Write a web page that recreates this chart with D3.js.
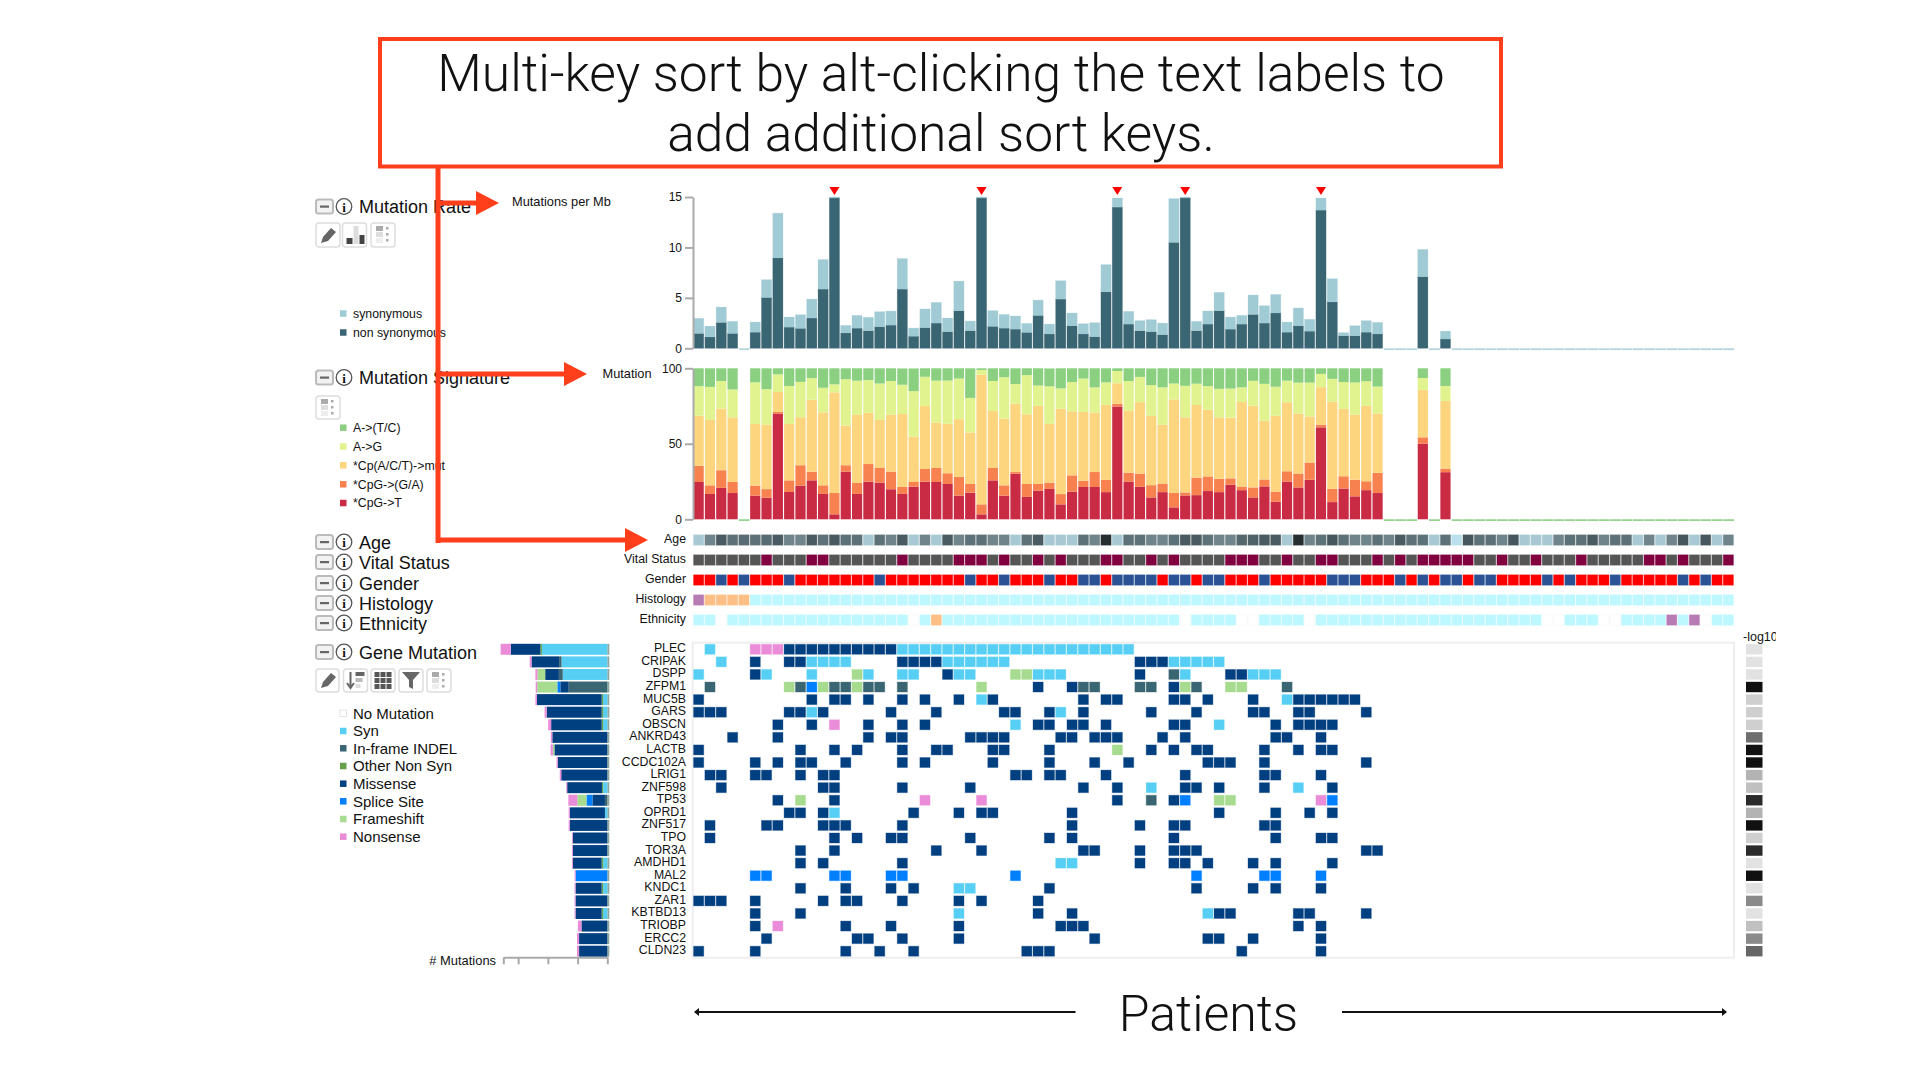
<!DOCTYPE html>
<html><head><meta charset="utf-8">
<script src="https://cdn.jsdelivr.net/npm/d3@7"></script>
<style>
html,body{margin:0;padding:0;background:#fff;overflow:hidden}
svg{display:block}
text{font-family:"Liberation Sans",Arial,sans-serif;fill:#111}
</style></head><body><svg id="c" width="1920" height="1080"></svg>
<script>
// ---------- data ----------
const genes=["PLEC","CRIPAK","DSPP","ZFPM1","MUC5B","GARS","OBSCN","ANKRD43","LACTB","CCDC102A","LRIG1","ZNF598","TP53","OPRD1","ZNF517","TPO","TOR3A","AMDHD1","MAL2","KNDC1","ZAR1","KBTBD13","TRIOBP","ERCC2","CLDN23"];
const rateNonSyn=[1.48,1.12,2.57,1.48,0,1.6,5.04,8.97,2.1,1.98,3,5.87,14.9,1.52,2,1.75,2.14,2.3,5.87,1.2,2.05,2.5,1.65,3.73,1.75,14.9,2.18,2,1.9,1.58,3.26,1.42,4.88,2.24,1.42,1.15,5.6,14,2.4,1.75,1.65,1.35,10.5,14.9,1.75,2.4,3.73,1.9,2.4,3.36,2.5,3.5,1.6,2.24,1.7,13.7,4.6,1.25,1.25,1.6,1.42,0,0,0,7.1,0,0.92, 0,0,0,0,0, 0,0,0,0,0, 0,0,0,0,0, 0,0,0,0,0, 0,0,0,0,0];
const rateSyn=[1.49,1.08,1.52,1.19,0,1,1.76,4.43,1,1.35,1.88,2.93,0.1,0.75,1.26,1.32,1.49,1.39,3.03,0.8,1.85,2.05,1.35,2.93,0.95,0.1,1.55,1.36,1.3,0.89,1.52,0.98,1.82,1.26,1.02,1.39,2.7,0.9,1.26,0.99,1.19,1.15,4.34,0.1,0.92,1.3,1.81,1.2,0.86,1.92,1.72,1.84,1,1.76,1.17,1.2,2.3,0.3,0.99,1.14,1.15,0,0,0,2.7,0,0.78, 0,0,0,0,0, 0,0,0,0,0, 0,0,0,0,0, 0,0,0,0,0, 0,0,0,0,0];
const truncatedCols=[12,25,37,43,55];
const sigCpGT=[24.7,16.8,20.8,17.4,0,15.7,14.3,70,18.1,22.3,25.8,16.8,3.3,31.6,16.8,24.9,24.3,19.9,16.8,21.6,24.9,24.7,23.4,15.7,17.7,3.3,25.8,15.7,30.2,14.8,19,20.1,9.9,18.3,21.4,21.4,18,74.7,25,21.5,14.5,18,7.9,15.8,16,18.7,18,22.9,19.3,14.5,21.8,11.6,25,21.1,26.2,60.9,11.4,20.4,15.2,19.3,17.4,0,0,0,50.1,0,31.2, 0,0,0,0,0, 0,0,0,0,0, 0,0,0,0,0, 0,0,0,0,0, 0,0,0,0,0];
const sigCpGGA=[10.8,5.7,11.7,7.3,0,6.6,5.7,1.1,7.7,13.5,5.7,5.7,14.1,4.2,7.3,11.7,9.7,11.7,4.6,3.1,8.4,9.3,7.1,12.4,5.7,6.6,8.2,6.8,1.1,8.6,4.4,4.2,6.8,10.8,4.2,9.9,8.1,1.8,5.9,8.8,8.1,5.7,9.5,2,11.6,9.7,8.8,4.2,2.4,6.6,4.6,6.8,6.8,9.2,11.4,1.8,8.8,8.1,11,5.9,13.4,0,0,0,4.2,0,2.4, 0,0,0,0,0, 0,0,0,0,0, 0,0,0,0,0, 0,0,0,0,0, 0,0,0,0,0];
const sigCpMut=[33.1,43.3,40.8,42.8,0,40.8,42.6,13.2,37.3,31.8,47.7,48.3,66.7,26.3,45,34,31.8,37.7,48.3,30,41.7,30,32.7,38.2,34,85.9,37.7,44.2,45.3,46.1,51.7,38.9,56.5,42.4,45.5,39.3,49.7,13.6,40.9,47.3,45.9,38.9,62,49.7,48.1,44.2,40.7,40.2,56,54.1,38.9,50.1,45.7,39.8,30.5,24.8,57.6,44.6,43.1,49.9,39.3,0,0,0,31.4,0,44.8, 0,0,0,0,0, 0,0,0,0,0, 0,0,0,0,0, 0,0,0,0,0, 0,0,0,0,0];
const sigAG=[19.6,21.9,18.3,18.5,0,27.6,23.6,11.7,25.2,23.4,14.3,16.3,5.3,30.7,22.7,21.6,24.1,22.3,19.4,30.2,19.4,27.8,28.7,26.9,23,3.1,19.9,27.4,13,26,13.5,24.9,13.5,19.4,22.1,16.8,14.9,8.1,19.8,16.7,20.4,24.8,10.5,20.9,14.1,15.6,18.9,19.3,9.7,16.5,24.4,19.3,14.3,20.4,22.4,8.8,15.2,17.8,21.3,16.3,17.8,0,0,0,7.9,0,9.9, 0,0,0,0,0, 0,0,0,0,0, 0,0,0,0,0, 0,0,0,0,0, 0,0,0,0,0];
const sigATC=[11.8,12.3,8.4,14,0,9.3,13.8,4,11.7,9,6.5,12.9,10.6,7.2,8.2,7.8,10.1,8.4,10.8,15,5.6,8.2,8.1,6.8,19.6,1.1,8.4,5.9,10.4,4.5,11.4,11.8,13.3,9.1,6.8,12.6,9.3,1.8,8.4,5.7,11,12.6,10.1,11.6,10.2,11.8,13.6,13.4,12.6,8.3,10.3,12.2,8.2,9.5,9.5,3.7,7,9.1,9.4,8.6,12.1,0,0,0,6.4,0,11.7, 0,0,0,0,0, 0,0,0,0,0, 0,0,0,0,0, 0,0,0,0,0, 0,0,0,0,0];
const ageValues=[35,50,66,58,60,58,60,66,50,50,66,58,66,58,58,35,58,50,66,35,50,35,66,50,58,58,50,50,35,58,66,35,35,35,58,50,85,35,58,58,50,50,58,66,66,58,50,50,62,64,66,66,35,85,50,58,68,58,50,50,58,50,66,58,58,35,58,28,68,58,58,50,68,35,35,35,50,58,58,66,50,58,58,35,50,35,50,68,35,68,35,50];
const deceasedCols=[6,10,11,18,23,24,25,27,30,32,36,37,40,42,47,48,49,52,55,56,60,62,64,65,66,67,68,71,74,78,84,85,87,91];
const maleCols=[2,4,8,16,24,27,31,34,35,37,38,39,40,42,43,45,46,50,56,57,58,62,64,66,67,69,70,75,77,81,87,89];
const histPurpleCols=[0];
const histOrangeCols=[1,2,3,4];
const ethWhiteCols=[2,19,43,48,49,54,75,76,80,81,89];
const ethOrangeCols=[21];
const ethPurpleCols=[86,88];
const missense=[[8,9,10,11,12,13,14,15,16,17],[5,8,9,18,19,20,21,39,40,41],[5,22,39,47,48],[30,33,42],[0,10,12,13,15,18,20,23,26,34,36,37,42,43,45,49,53,54,55,56,57,58],[0,1,2,8,9,11,17,21,27,28,31,34,40,44,49,50,53,54,59],[7,10,15,18,20,30,31,33,34,36,42,43,51,53,54,55,56],[3,7,15,17,18,24,25,26,27,32,33,35,36,37,41,43,51,52,55],[0,9,12,14,18,21,22,26,27,31,40,42,44,45,50,53,55,56],[0,5,7,9,10,13,18,20,26,31,35,38,45,46,47,50,59],[1,2,5,6,9,11,12,28,29,31,32,36,43,50,51,55],[2,11,12,18,24,34,37,43,44,46,50,56],[7,12,37,42],[8,9,11,19,23,25,26,33,46,51,54,56],[1,6,7,11,12,13,18,33,39,42,43,50,51],[1,12,14,17,18,24,31,33,42,51,55,56],[9,12,21,25,34,35,39,42,43,44,59,60],[9,11,18,39,42,43,45,49,51,56],[],[9,13,17,19,31,44,49,51,55],[0,1,2,5,11,13,14,18,23,25,30],[5,9,30,33,46,47,53,54,59],[5,13,17,23,32,33,34,53,55],[6,14,15,18,23,35,45,46,49,55],[0,5,13,16,19,29,30,31,48,55]];
const synCalls=[[1,18,19,20,21,22,23,24,25,26,27,28,29,30,31,32,33,34,35,36,37,38],[2,10,11,12,13,22,23,24,25,26,27,42,43,44,45,46],[0,6,10,15,18,19,23,24,30,31,32,43,49,50,51],[],[25,52],[10,32],[28,46],[],[],[],[],[40,53],[],[12],[],[],[],[32,33],[],[23,24],[],[23,45],[],[],[]];
const inframeCalls=[[],[],[42],[1,9,12,13,15,16,18,34,35,39,40,44,52],[],[],[],[],[],[],[],[],[40],[],[],[],[],[],[],[],[],[],[],[],[]];
const spliceCalls=[[],[],[],[10],[],[],[],[],[],[],[],[],[43,56],[],[],[],[],[],[5,6,12,13,17,18,28,44,50,51,55],[],[],[],[],[],[]];
const frameshiftCalls=[[],[],[14,28,29],[8,11,14,25,43,47,48],[],[],[],[],[37],[],[],[],[9,46,47],[],[],[],[],[],[],[],[],[],[],[],[]];
const nonsenseCalls=[[5,6,7],[],[],[],[],[],[12],[],[],[],[],[],[20,25,55],[],[],[],[],[],[],[],[],[],[7],[],[]];
// gene totals bar (counts by type)
const barSyn=[22,15.4,15,0,1.4,1.4,1.4,0,0,0,0,1.4,0,0.8,0,0,0,1.4,0,1.4,0,1.4,0,0,0];
const barInframe=[0,0.8,1.3,13,0,0,0,0,0,0,0,0,0.8,0,0,0,0,0,0,0,0,0,0,0,0];
const barOther=[0.5,0,0,0,0.5,0.5,0.5,0,0,0,0,0.4,0,0,0,0,0,0.5,0,0.5,0,0.5,0,0,0];
const barMissense=[10,9.3,4.6,2.8,21.8,18.5,17,18.5,17.8,16.7,15.5,11.7,4.2,11.8,12.6,11.6,11.6,9.7,0,8.8,10.7,8.8,8.7,9.5,9.5];
const barSplice=[0,0,0,1,0,0,0,0,0,0,0,0,2,0,0,0,0,0,10.7,0,0,0,0,0,0];
const barFrameshift=[0,0,2.6,6.8,0,0,0,0,0.5,0,0,0,3.1,0,0,0,0,0,0,0,0,0,0,0,0];
const barNonsense=[3.4,0.6,0.7,0.5,0.5,0.7,1,0.5,0.8,0.4,0.5,0.3,3,0.4,0.4,0.3,0.3,0.3,0.3,0.3,0.3,0.3,1.2,0.7,0.7];
const negLog10=[0.44,0.44,0.44,7,1.04,1.04,1.04,4.08,7,7,1.9,1.5,6.2,1.9,7,1.04,6.2,0.44,7,0.44,3.2,0.44,1.5,3.2,4.33];
const rateTicks=[0,5,10,15];
const sigTicks=[0,50,100];
const countTicks=[0,10,20,30,35];
const trackNames=["Age","Vital Status","Gender","Histology","Ethnicity"];
const rateLegend=[["synonymous","#9fcbd5"],["non synonymous","#3a6673"]];
const sigLegend=[["A->(T/C)","#8bd081"],["A->G","#e0f38f"],["*Cp(A/C/T)->mut","#fdd57f"],["*CpG->(G/A)","#f7824f"],["*CpG->T","#c92a44"]];
const geneLegend=[["No Mutation","#ffffff"],["Syn","#57cff5"],["In-frame INDEL","#3a6673"],["Other Non Syn","#66a04d"],["Missense","#003f80"],["Splice Site","#007fff"],["Frameshift","#a7db8f"],["Nonsense","#eb8cd9"]];

// ---------- layout ----------
const svg=d3.select("#c");
const ORANGE="#ff3f1c";
const nCols=rateNonSyn.length, cols=d3.range(nCols);
const x=d3.scaleBand().domain(cols).range([693,1734]).paddingInner(0.1).paddingOuter(0.05);
const yRate=d3.scaleLinear().domain([0,15]).range([348.3,197]).clamp(true);
const ySig=d3.scaleLinear().domain([0,100]).range([519.3,368.3]);
const yGene=d3.scaleBand().domain(genes).range([643,957.5]);
const xCount=d3.scaleLinear().domain([0,35]).range([607.3,503.3]);

function axis(g,gen){
  g.call(gen);
  g.select(".domain").attr("stroke","#aaa").attr("stroke-width",2);
  g.selectAll(".tick line").attr("stroke","#aaa").attr("stroke-width",2);
  g.selectAll(".tick text").attr("font-size",12).attr("fill","#111").attr("font-family","Liberation Sans");
}

// Rate bars
const gRate=svg.append("g");
const rateStack=d3.stack().keys(["n","s"])(cols.map(i=>({n:rateNonSyn[i],s:rateSyn[i]})));
const rateCols=["#3a6673","#a0cbd5"];
rateStack.forEach((ser,si)=>{
  gRate.selectAll(null).data(ser.map((d,i)=>({d,i})).filter(o=>o.d[1]>o.d[0])).join("rect")
   .attr("x",o=>x(o.i)).attr("width",x.bandwidth())
   .attr("y",o=>yRate(o.d[1])).attr("height",o=>yRate(o.d[0])-yRate(o.d[1]))
   .attr("fill",rateCols[si]).attr("stroke",rateCols[si]).attr("stroke-opacity",.3).attr("stroke-width",.8);
});
gRate.selectAll(null).data(cols.filter(i=>rateNonSyn[i]+rateSyn[i]===0)).join("rect")
  .attr("x",x).attr("width",x.bandwidth()+.6).attr("y",yRate(0)).attr("height",1.8).attr("fill","#b4d6dd");
gRate.selectAll(null).data(truncatedCols).join("path")
  .attr("d",i=>{const c=x(i)+x.bandwidth()/2,t=yRate(15);return `M${c-5},${t-10}L${c+5},${t-10}L${c},${t-2}Z`;})
  .attr("fill","#ff0000");
svg.append("g").attr("transform","translate(693,0)").call(axis,d3.axisLeft(yRate).tickValues(rateTicks).tickSize(8).tickSizeOuter(0).tickPadding(3));

// Signature bars
const gSig=svg.append("g");
const sigStack=d3.stack().keys(["a","b","c","d","e"])(cols.map(i=>({a:sigCpGT[i],b:sigCpGGA[i],c:sigCpMut[i],d:sigAG[i],e:sigATC[i]})));
const sigCols=[sigLegend[4][1],sigLegend[3][1],sigLegend[2][1],sigLegend[1][1],sigLegend[0][1]];
sigStack.forEach((ser,si)=>{
  gSig.selectAll(null).data(ser.map((d,i)=>({d,i})).filter(o=>o.d[1]>o.d[0])).join("rect")
   .attr("x",o=>x(o.i)).attr("width",x.bandwidth())
   .attr("y",o=>ySig(o.d[1])).attr("height",o=>ySig(o.d[0])-ySig(o.d[1]))
   .attr("fill",sigCols[si]);
});
gSig.selectAll(null).data(cols.filter(i=>sigCpGT[i]+sigATC[i]===0)).join("rect")
  .attr("x",x).attr("width",x.bandwidth()+.6).attr("y",ySig(0)).attr("height",1.6).attr("fill","#8bd081");
svg.append("g").attr("transform","translate(693,0)").call(axis,d3.axisLeft(ySig).tickValues(sigTicks).tickSize(8).tickSizeOuter(0).tickPadding(3));

// Clinical tracks
const trackY=d3.scalePoint().domain(trackNames).range([540,620]);
const ageColor=d3.scaleLinear().domain([28,35,50,58,66,85]).range(["#b9e0ec","#a8c9d3","#6f848b","#5d7278","#4a5c62","#272e30"]);
const CY="#bdf7ff",PU="#b87cb5",OR="#fdbf85";
const trackFill={
 "Age":i=>ageColor(ageValues[i]),
 "Vital Status":i=>deceasedCols.includes(i)?"#800040":"#555555",
 "Gender":i=>maleCols.includes(i)?"#2a5295":"#ff0000",
 "Histology":i=>histPurpleCols.includes(i)?PU:histOrangeCols.includes(i)?OR:CY,
 "Ethnicity":i=>ethWhiteCols.includes(i)?"#ffffff":ethOrangeCols.includes(i)?OR:ethPurpleCols.includes(i)?PU:CY
};
trackNames.forEach(t=>{
  svg.append("g").selectAll("rect").data(cols).join("rect")
   .attr("x",x).attr("width",x.bandwidth()).attr("y",trackY(t)-5.2).attr("height",10.4)
   .attr("fill",trackFill[t])
   .attr("stroke",i=>trackFill[t](i)==="#ffffff"?"#eeeeee":trackFill[t](i)).attr("stroke-opacity",.35).attr("stroke-width",1);
  svg.append("text").attr("x",686).attr("y",trackY(t)+3).attr("text-anchor","end").attr("font-size",12.3).text(t);
});

// Heat map
svg.append("rect").attr("x",692.7).attr("y",642.7).attr("width",1041.3).attr("height",315).attr("fill","#fff").attr("stroke","#eeeeee").attr("stroke-width",2);
const callSets=[[synCalls,1],[inframeCalls,2],[missense,4],[spliceCalls,5],[frameshiftCalls,6],[nonsenseCalls,7]];
callSets.forEach(([calls,li])=>{
  const col=geneLegend[li][1];
  genes.forEach((g,gi)=>{
    svg.append("g").selectAll("rect").data(calls[gi]).join("rect")
      .attr("x",x).attr("width",x.bandwidth()).attr("y",yGene(g)+yGene.step()/2-5).attr("height",10)
      .attr("fill",col).attr("stroke",col).attr("stroke-opacity",.3).attr("stroke-width",1);
  });
});
svg.append("g").selectAll("text").data(genes).join("text")
  .attr("x",686).attr("y",g=>yGene(g)+yGene.step()/2+3).attr("text-anchor","end").attr("font-size",12.3).text(g=>g);

// Gene-count bars
const gBar=svg.append("g");
const barSeries=[[barSyn,1],[barInframe,2],[barOther,3],[barMissense,4],[barSplice,5],[barFrameshift,6],[barNonsense,7]];
genes.forEach((g,gi)=>{
  gBar.append("rect").attr("x",xCount(0)).attr("width",2).attr("y",yGene(g)+.8).attr("height",11).attr("fill","#8fa89c");
  let acc=0;
  barSeries.forEach(([arr,li])=>{
    const v=arr[gi]; if(!v) return;
    gBar.append("rect").attr("x",xCount(acc+v)).attr("width",xCount(acc)-xCount(acc+v))
      .attr("y",yGene(g)+.8).attr("height",11).attr("fill",geneLegend[li][1]);
    acc+=v;
  });
});
svg.append("g").attr("transform","translate(0,957.3)").call(axis,d3.axisBottom(xCount).tickValues(countTicks).tickSize(7).tickSizeOuter(0).tickFormat(""));
svg.append("text").attr("x",496).attr("y",965).attr("text-anchor","end").attr("font-size",12.9).text("# Mutations");

// -log10 strip
const grey=d3.scaleLinear().domain([0,7]).range(["#f0f0f0","#111111"]);
svg.append("g").selectAll("rect").data(genes).join("rect")
  .attr("x",1746).attr("width",16.5).attr("y",g=>yGene(g)+yGene.step()/2-5.2).attr("height",10.4)
  .attr("fill",(g,i)=>grey(negLog10[i]));
svg.append("clipPath").attr("id","lg").append("rect").attr("x",1740).attr("y",620).attr("width",36).attr("height",30);
svg.append("text").attr("x",1743).attr("y",641).attr("font-size",12.5).attr("clip-path","url(#lg)").text("-log10");

// Axis captions
svg.append("text").attr("x",512).attr("y",206).attr("font-size",12.8).text("Mutations per Mb");
svg.append("text").attr("x",602.5).attr("y",378).attr("font-size",12.8).text("Mutation");

// Left panel
function minusI(cy){
  svg.append("rect").attr("x",316).attr("y",cy-7).attr("width",17).attr("height",14).attr("rx",2.5).attr("fill","#f2f2f2").attr("stroke","#bbb").attr("stroke-width",2);
  svg.append("rect").attr("x",320).attr("y",cy-1).attr("width",9).attr("height",2.2).attr("fill","#666");
  svg.append("circle").attr("cx",344).attr("cy",cy).attr("r",7.8).attr("fill","#fff").attr("stroke","#555").attr("stroke-width",1.3);
  svg.append("text").attr("x",344).attr("y",cy+5).attr("text-anchor","middle").attr("font-size",13).style("font-family","Liberation Serif").attr("font-weight","bold").attr("fill","#444").text("i");
}
[["Mutation Rate",213],["Mutation Signature",384],["Age",548.5],["Vital Status",568.5],["Gender",589.5],["Histology",609.5],["Ethnicity",629.5],["Gene Mutation",658.5]].forEach(([t,b])=>{
  minusI(b-6.5);
  svg.append("text").attr("x",359).attr("y",b).attr("font-size",18).text(t);
});
function btn(xp,yp,w,h,kind){
  const g=svg.append("g").attr("transform",`translate(${xp},${yp})`);
  g.append("rect").attr("width",w).attr("height",h).attr("rx",3).attr("fill","#fff").attr("stroke","#ddd").attr("stroke-width",1.5);
  const c="#666";
  if(kind==="pen") g.append("path").attr("d",`M5,${h-4}L7,${h-10}L15,${h-19}L20,${h-15}L12,${h-6}Z`).attr("fill",c);
  if(kind==="bars"){ g.append("rect").attr("x",4).attr("y",h-9).attr("width",6).attr("height",6).attr("fill","#444");
    g.append("rect").attr("x",11).attr("y",h-21).attr("width",5).attr("height",18).attr("fill","#ddd");
    g.append("rect").attr("x",17).attr("y",h-12).attr("width",5).attr("height",9).attr("fill","#444");}
  if(kind==="sort"){ g.append("rect").attr("x",5).attr("y",3).attr("width",7).attr("height",5).attr("fill","#aaa");
    g.append("rect").attr("x",5).attr("y",9).attr("width",7).attr("height",5).attr("fill","#ddd");
    g.append("rect").attr("x",5).attr("y",15).attr("width",7).attr("height",5).attr("fill","#eee");
    [4,10,16].forEach(v=>g.append("rect").attr("x",15).attr("y",v).attr("width",2.5).attr("height",2.5).attr("fill","#aaa"));}
  if(kind==="down"){ g.append("path").attr("d",`M7,3V${h-6}M3.5,${h-9}L7,${h-4}L10.5,${h-9}`).attr("stroke",c).attr("stroke-width",2).attr("fill","none");
    g.append("rect").attr("x",12).attr("y",3).attr("width",9).attr("height",4).attr("fill",c);
    g.append("rect").attr("x",12).attr("y",9).attr("width",7).attr("height",4).attr("fill","#bbb");
    g.append("rect").attr("x",12).attr("y",15).attr("width",5).attr("height",4).attr("fill","#ddd");}
  if(kind==="grid"){ d3.range(3).forEach(a=>d3.range(3).forEach(b=>g.append("rect").attr("x",3.5+a*6).attr("y",3+b*6).attr("width",5).attr("height",5).attr("fill","#555")));}
  if(kind==="funnel") g.append("path").attr("d",`M3,3H21L14,11V${h-3}L10,${h-5}V11Z`).attr("fill",c);
}
btn(316,223,24,24,"pen");btn(342.5,223,24,24,"bars");btn(371,223,24,24,"sort");
btn(316,396,24,23,"sort");
btn(316,669,23,23,"pen");btn(343.5,669,24,23,"down");btn(371,669,24,23,"grid");btn(399,669,24,23,"funnel");btn(427,669,24,23,"sort");

function legend(items,ys,sx,sz,tx,fs){
  items.forEach(([t,c],i)=>{
    svg.append("rect").attr("x",sx).attr("y",ys[i]-sz/2).attr("width",sz).attr("height",sz).attr("fill",c)
      .attr("stroke",c==="#ffffff"?"#e4e4e4":"none").attr("stroke-width",1);
    svg.append("text").attr("x",tx).attr("y",ys[i]+fs*0.36).attr("font-size",fs).text(t);
  });
}
legend(rateLegend,[313.5,332.5],340,6.5,353,12.3);
legend(sigLegend,[427.7,446.5,465.3,484.3,503],340,6.5,353,12.3);
legend(geneLegend,[713.3,731,748.3,766,783.7,801.3,819,836.7],340,6.5,353,15);

// Annotation box, arrows
svg.append("rect").attr("x",380).attr("y",39).attr("width",1121).attr("height",127.5).attr("fill","none").attr("stroke",ORANGE).attr("stroke-width",4);
const tt=svg.append("g").attr("text-anchor","middle");
tt.append("text").attr("x",941).attr("y",91).attr("font-size",51.5).style("font-family","Roboto").attr("font-weight",300).text("Multi-key sort by alt-clicking the text labels to");
tt.append("text").attr("x",941).attr("y",151).attr("font-size",51.5).style("font-family","Roboto").attr("font-weight",300).text("add additional sort keys.");
const ag=svg.append("g").attr("fill",ORANGE);
ag.append("rect").attr("x",435.5).attr("y",168).attr("width",5).attr("height",375);
[[203,476,499],[374,564,587],[540,625,648]].forEach(([y,hs,tip])=>{
  ag.append("rect").attr("x",438).attr("y",y-2.5).attr("width",hs-438).attr("height",5);
  ag.append("path").attr("d",`M${hs},${y-12}L${tip},${y}L${hs},${y+12}Z`);
});
// Patients
svg.append("text").attr("x",1208.5).attr("y",1031).attr("text-anchor","middle").attr("font-size",50).style("font-family","Roboto").attr("font-weight",300).text("Patients");
[[695,1075.5,-1],[1342,1726,1]].forEach(([a,b,d])=>{
  svg.append("line").attr("x1",a).attr("x2",b).attr("y1",1012).attr("y2",1012).attr("stroke","#111").attr("stroke-width",2);
  const t=d<0?a:b;
  svg.append("path").attr("d",`M${t+d*1},1012L${t-d*4},1008L${t-d*4},1016Z`).attr("fill","#111");
});
</script></body></html>
